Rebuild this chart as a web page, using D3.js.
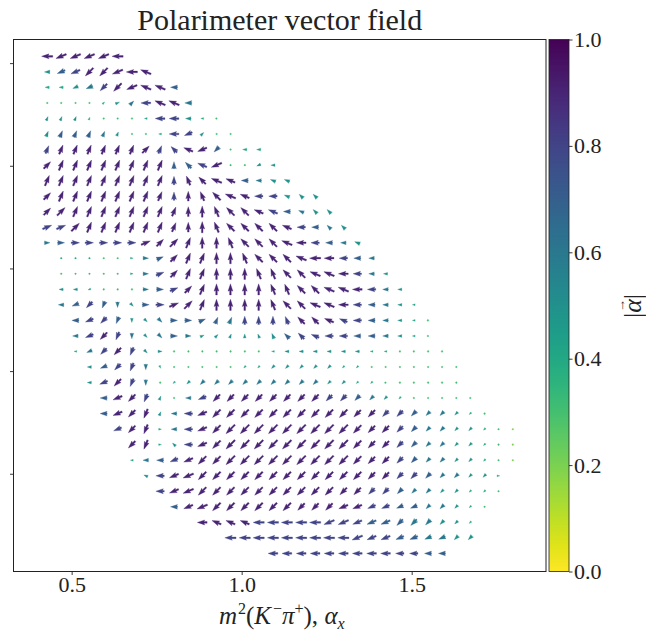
<!DOCTYPE html>
<html>
<head>
<meta charset="utf-8">
<script src="https://cdn.jsdelivr.net/npm/d3@7"></script>
<style>
  body { margin: 0; background: #fff; }
  svg { display: block; }
</style>
</head>
<body>
<svg id="chart" width="646" height="636"></svg>
<script>
// grid columns, m^2(K- pi+)
const gridX = [0.428, 0.469, 0.511, 0.552, 0.594, 0.635, 0.677, 0.718, 0.760, 0.801,
               0.843, 0.884, 0.926, 0.967, 1.009, 1.050, 1.092, 1.133, 1.175, 1.216,
               1.257, 1.299, 1.340, 1.382, 1.423, 1.465, 1.506, 1.548, 1.589, 1.631,
               1.672, 1.714, 1.755, 1.797];
// grid rows, top to bottom
const gridY = [4.533, 4.457, 4.382, 4.306, 4.230, 4.155, 4.079, 4.003, 3.928, 3.852,
               3.777, 3.701, 3.625, 3.550, 3.474, 3.398, 3.323, 3.247, 3.171, 3.096,
               3.020, 2.944, 2.869, 2.793, 2.717, 2.642, 2.566, 2.490, 2.415, 2.339,
               2.263, 2.188, 2.112];
// first filled column of each row
const rowStart = [0, 0, 0, 0, 0, 0, 0, 0, 0, 0, 0, 0, 0, 1, 1, 1, 1, 2, 2, 2, 3, 3, 4, 4, 5, 6, 6, 7, 8, 9, 11, 13, 16];
// direction per arrow: a..p = 0, 22.5, ... 337.5 deg (a = +x, counter-clockwise)
const rowAngle = [
  'ijjjji',
  'ijjkkjih',
  'iijjkkjhhi',
  'aaaacbcihhi',
  'ddddaaaiiiiii',
  'ddddddaaiijcaa',
  'dddddddcdghjkaii',
  'cddddddddeghjaaji',
  'dddddddddefghhiihh',
  'cddddddddeefghhiihgg',
  'ccddddddddeefgghhihgg',
  'bbcdddddddeefgggghiigg',
  'aaaaaaabccdeefggghiiiih',
  'aaaaaaabcddeefggghiiiii',
  'aaaaaaabcddeeeffgghhiiii',
  'iijaaaaabcdeeeeffgghhiiii',
  'ijklmoaabcdeeeefgghhiiiiii',
  'ijklmooaabddeeefgghhiiiiii',
  'ijklmooaabcdeffgghiiiiiiii',
  'ijkkloaaaaaaaaiiiiiiiiiaaaa',
  'ijklmnaaaaakkkkkkkkkaaaaaaa',
  'ijklmakkkkkkkkkkkkkkkkaaaaa',
  'ijkldaijkkkkkkkkkkkkkkaaaaa',
  'ijkldiijkkkkkkkkkkkkkkkkkkka',
  'jklaiijkkkkkkkkkkkkkkkkkkkkaa',
  'klagijkkkkkkkkkkkkkkkkkkkkaa',
  'iiijjkkkkkkkkkkkkkkkkkkkkkaa',
  'hijjkkkkkkkkkkkkkkkkkkkkka',
  'ijjkkkkkkkkkkkkkkkkkkkkka',
  'ijjkkkkkkkkkjjjjjjkkkka',
  'ihhhiiiiijjjjjkkkkkk',
  'iiiiiiiiijjjjjjjkk',
  'iiiiiiiiiiiii'
];
// in-plane length per arrow, digit / 10
const rowLength = [
  '888888',
  '46788888',
  '3345788885',
  '11112347885',
  '3332111277421',
  '45554311276311',
  '6777777766775133',
  '78888888856781133',
  '888888888677875444',
  '78888888767788766444',
  '788888888778888775444',
  '7788888887788888876544',
  '45666667788888888876544',
  '11111245788888888887654',
  '111112467888888888887643',
  '3321114567888888888887643',
  '45654356788888888888765432',
  '56653345555566667776654321',
  '46764345433333456666554321',
  '246763311111112333333221111',
  '356642111112233333221111111',
  '367641234444444443322111111',
  '577631467777777766543211111',
  '5777346788888888887766544321',
  '67724678999999999877654433211',
  '7723678999999999877654433211',
  '2456788999999999877654433211',
  '367888888888888877665443321',
  '6788888888888776654433221',
  '57888888877777665544321',
  '77778888888777665432',
  '888888888877665544',
  '7777777776655'
];
// |alpha| per arrow, digit / 10
const rowColor = [
  '999999',
  '57899999',
  '4456899997',
  '33334568996',
  '5554333488543',
  '57776533488533',
  '8999999988997344',
  '99999999977893355',
  '999999999899997655',
  '99999999989999988555',
  '999999999999999987655',
  '8899999999999999998765',
  '67888889999999999998765',
  '44433467999999999999876',
  '333334689999999999999865',
  '5543336789999999999999865',
  '67876578999999999999987654',
  '78875567777688889998876543',
  '68986567655555578888776543',
  '468985533333334555555443333',
  '578864333334455555443333333',
  '589863456666666665544333333',
  '799853689999999988765433333',
  '7999568999999999999988766543',
  '89946899999999999999876655432',
  '9945899999999999999876655432',
  '4678999999999999999876655432',
  '589999999999999999887665543',
  '8999999999999998876655443',
  '79999999999999887766543',
  '999988888888777665543',
  '888888888888776655',
  '8888888888877'
];
const xTicks = [0.5, 1.0, 1.5];
const yTicks = [2.5, 3.0, 3.5, 4.0, 4.5];
const cbarTicks = [0, 0.2, 0.4, 0.6, 0.8, 1.0];

const svg = d3.select('#chart');
svg.append('rect').attr('width', 646).attr('height', 636).attr('fill', '#fff');

const L = 13.5, R = 546, T = 39.5, B = 571.5;
const x = d3.scaleLinear().domain([0.329, 1.895]).range([L, R]);
const y = d3.scaleLinear().domain([2.024, 4.615]).range([B, T]);
const col = d3.scaleLinear().domain([0, 1]).range([1, 0]);  // viridis_r
const color = v => d3.interpolateViridis(col(v));

// flatten the rows into arrows
const arrows = [];
rowAngle.forEach((s, r) => {
  for (let k = 0; k < s.length; k++) {
    const c = rowStart[r] + k;
    arrows.push({
      x: gridX[c], y: gridY[r],
      ang: (s.charCodeAt(k) - 97) * 22.5,
      len: +(rowLength[r][k] || 5) / 10,
      mag: +(rowColor[r][k] || 5) / 10
    });
  }
});

// matplotlib-like quiver arrow polygon, tail at 0, pointing +x
const W = 1.65, lenScale = 14;
function arrowPath(lpx) {
  const l = lpx / W, hl = 4.5, hw = 3, hal = 4;
  if (l < 1) {
    return d3.range(6).map(i => [Math.cos(i * Math.PI / 3) * 0.55 + 0.5, Math.sin(i * Math.PI / 3) * 0.55]);
  }
  if (l < hl) {
    const s = l / hl;
    return [[0, .5], [hl - hal, .5], [0, hw / 2], [hl, 0], [0, -hw / 2], [hl - hal, -.5], [0, -.5]]
      .map(p => [p[0] * s, p[1] * s]);
  }
  return [[0, .5], [l - hal, .5], [l - hl, hw / 2], [l, 0], [l - hl, -hw / 2], [l - hal, -.5], [0, -.5]];
}

const field = svg.append('g');
arrows.forEach(a => {
  const lpx = a.len * lenScale;
  const pts = arrowPath(lpx).map(p => [(p[0] * W) - lpx / 2, p[1] * W]);
  field.append('polygon')
    .attr('points', pts.map(p => p.join(',')).join(' '))
    .attr('transform', `translate(${x(a.x)},${y(a.y)}) rotate(${-a.ang})`)
    .attr('fill', color(a.mag))
    .attr('stroke', color(a.mag)).attr('stroke-width', 0.3);
});

const serif = "'Liberation Serif', 'DejaVu Serif', serif";

// axes
const xAxis = svg.append('g').attr('transform', `translate(0,${B})`)
  .call(d3.axisBottom(x).tickValues(xTicks).tickFormat(d3.format('.1f')).tickSize(3.5).tickSizeOuter(0));
const yAxis = svg.append('g').attr('transform', `translate(${L},0)`)
  .call(d3.axisLeft(y).tickValues(yTicks).tickFormat('').tickSize(3.5).tickSizeOuter(0));
[xAxis, yAxis].forEach(g => {
  g.select('.domain').remove();
  g.selectAll('line').attr('stroke', '#222').attr('stroke-width', 0.9);
  g.selectAll('text').attr('font-family', serif).attr('font-size', 22).attr('fill', '#222');
});
xAxis.selectAll('text').attr('dy', '0.62em');

svg.append('rect').attr('x', L).attr('y', T).attr('width', R - L).attr('height', B - T)
  .attr('fill', 'none').attr('stroke', '#222').attr('stroke-width', 1);

// title
svg.append('text').attr('x', (L + R) / 2).attr('y', 30).attr('text-anchor', 'middle')
  .attr('font-family', serif).attr('font-size', 30).attr('fill', '#222')
  .text('Polarimeter vector field');

// x label
const xl = svg.append('text').attr('x', (L + R) / 2 + 2).attr('y', 624).attr('text-anchor', 'middle')
  .attr('font-family', serif).attr('font-size', 25).attr('fill', '#222');
xl.append('tspan').attr('font-style', 'italic').text('m');
xl.append('tspan').attr('font-size', 16).attr('dy', -10).attr('dx', 1).text('2');
xl.append('tspan').attr('dy', 10).text('(');
xl.append('tspan').attr('font-style', 'italic').text('K');
xl.append('tspan').attr('font-size', 16).attr('dy', -10).attr('dx', 2).text('−');
xl.append('tspan').attr('dy', 10).attr('font-style', 'italic').text('π');
xl.append('tspan').attr('font-size', 16).attr('dy', -10).text('+');
xl.append('tspan').attr('dy', 10).text('), ');
xl.append('tspan').attr('font-style', 'italic').text('α');
xl.append('tspan').attr('font-size', 16).attr('font-style', 'italic').attr('dy', 5).text('x');

// colorbar
const cbL = 549, cbW = 20;
const cb = d3.scaleLinear().domain([0, 1]).range([B, T]);
const grad = svg.append('defs').append('linearGradient').attr('id', 'vir')
  .attr('x1', 0).attr('y1', 1).attr('x2', 0).attr('y2', 0);
d3.range(0, 1.0001, 0.05).forEach(t => {
  grad.append('stop').attr('offset', t).attr('stop-color', color(t));
});
svg.append('rect').attr('x', cbL).attr('y', T).attr('width', cbW).attr('height', B - T)
  .attr('fill', 'url(#vir)').attr('stroke', '#222').attr('stroke-width', 0.8);
const cbAxis = svg.append('g').attr('transform', `translate(${cbL + cbW},0)`)
  .call(d3.axisRight(cb).tickValues(cbarTicks).tickFormat(d3.format('.1f')).tickSize(3.5).tickSizeOuter(0));
cbAxis.select('.domain').remove();
cbAxis.selectAll('line').attr('stroke', '#222').attr('stroke-width', 0.9);
cbAxis.selectAll('text').attr('font-family', serif).attr('font-size', 22).attr('fill', '#222').attr('x', 5);

// colorbar label |alpha| with vector arrow
const lab = svg.append('g').attr('transform', 'translate(632,306) rotate(-90)');
lab.append('text').attr('text-anchor', 'middle').attr('y', 9)
  .attr('font-family', serif).attr('font-size', 26).attr('fill', '#222')
  .html('|<tspan font-style="italic">α</tspan>|');
lab.append('text').attr('text-anchor', 'middle').attr('x', 0.5).attr('y', -7)
  .attr('font-family', serif).attr('font-size', 13).attr('fill', '#222').text('→');
</script>
</body>
</html>
